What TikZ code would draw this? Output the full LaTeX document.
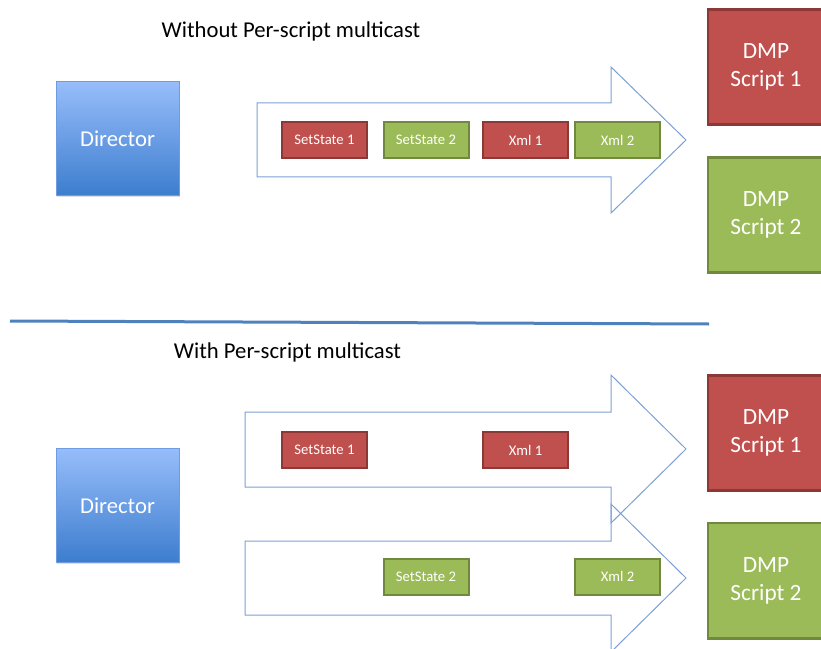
\documentclass[tikz,border=0pt]{standalone}
\usepackage{fontspec}
\setmainfont{Carlito}
\usetikzlibrary{shadows}

\definecolor{dirtop}{RGB}{151,189,250}
\definecolor{dirbot}{RGB}{60,125,206}
\definecolor{dirline}{RGB}{110,155,225}
\definecolor{msgred}{RGB}{192,80,77}
\definecolor{msgredline}{RGB}{140,56,54}
\definecolor{msggreen}{RGB}{155,187,89}
\definecolor{msggreenline}{RGB}{113,137,63}
\definecolor{flowline}{RGB}{125,160,212}
\definecolor{sepline}{RGB}{79,129,189}

\tikzset{
	director/.style={draw=dirline, line width=0.75pt, top color=dirtop, bottom color=dirbot, text=white, font=\fontsize{17}{20}\selectfont, minimum width=92.25pt, minimum height=85.5pt, inner sep=0pt, drop shadow={opacity=0.25, shadow xshift=1pt, shadow yshift=-1pt}},
	msg/.style={line width=1.5pt, text=white, font=\fontsize{11}{13}\selectfont, minimum width=63.75pt, minimum height=27pt, inner sep=0pt},
	redmsg/.style={msg, fill=msgred, draw=msgredline},
	greenmsg/.style={msg, fill=msggreen, draw=msggreenline},
	dmp/.style={line width=2pt, text=white, align=center, font=\fontsize{17.5}{21}\selectfont, minimum width=87pt, minimum height=86.5pt, inner sep=0pt},
	reddmp/.style={dmp, fill=msgred, draw=msgredline},
	greendmp/.style={dmp, fill=msggreen, draw=msggreenline},
	flow/.style={draw=flowline, line width=0.75pt, line join=miter},
	heading/.style={font=\fontsize{17}{20}\selectfont, anchor=base}
}

\begin{document}
\begin{tikzpicture}[x=0.75pt, y=-0.75pt]
		\useasboundingbox (0, 0) rectangle (821, 649);

		% without per-script multicast
		\node[heading] (titleA) at (291, 38) {Without Per-script multicast};
		\node[director] (dirA) at (117.5, 139) {Director};
		\draw[flow] (257, 103) -- (611, 103) -- (611, 67) -- (686, 140) -- (611, 213) -- (611, 177) -- (257, 177) -- cycle;
		\node[redmsg] (setA1) at (324.5, 140) {SetState 1};
		\node[greenmsg] (setA2) at (426, 140) {SetState 2};
		\node[redmsg] (xmlA1) at (525.5, 140) {Xml 1};
		\node[greenmsg] (xmlA2) at (617.5, 140) {Xml 2};
		\node[reddmp] (dmpA1) at (766, 67) {DMP\\Script 1};
		\node[greendmp] (dmpA2) at (766, 215) {DMP\\Script 2};

		\draw[sepline, line width=2.25pt] (10, 321) -- (709, 324);

		% with per-script multicast
		\node[heading] (titleB) at (287.5, 358) {With Per-script multicast};
		\node[director] (dirB) at (117.5, 505.5) {Director};
		\draw[flow] (245, 541) -- (611, 541) -- (611, 504) -- (686, 578) -- (611, 652) -- (611, 615) -- (245, 615) -- cycle;
		\draw[flow] (245, 412) -- (611, 412) -- (611, 375) -- (686, 449) -- (611, 523) -- (611, 487) -- (245, 487) -- cycle;
		\node[redmsg] (setB1) at (324.5, 450) {SetState 1};
		\node[redmsg] (xmlB1) at (525.5, 450) {Xml 1};
		\node[greenmsg] (setB2) at (426, 576.5) {SetState 2};
		\node[greenmsg] (xmlB2) at (617.5, 576.5) {Xml 2};
		\node[reddmp] (dmpB1) at (766, 433) {DMP\\Script 1};
		\node[greendmp] (dmpB2) at (766, 580.5) {DMP\\Script 2};
	\end{tikzpicture}
\end{document}
